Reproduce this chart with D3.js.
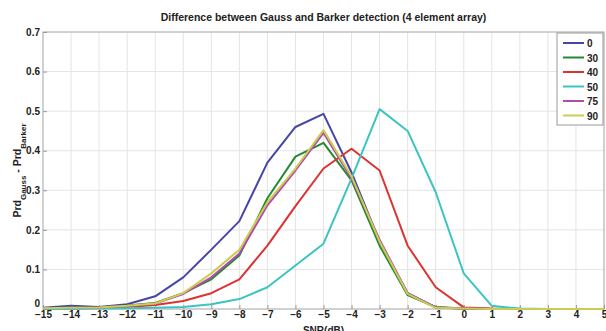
<!DOCTYPE html>
<html>
<head>
<meta charset="utf-8">
<script src="https://cdn.jsdelivr.net/npm/d3@7"></script>
<style>
  body { margin: 0; background: #fff; }
  svg { font-family: "Liberation Sans", Arial, sans-serif; }
</style>
</head>
<body>
<div id="chart"></div>
<script>
// Data
const snr = [-15, -14, -13, -12, -11, -10, -9, -8, -7, -6, -5, -4, -3, -2, -1, 0, 1, 2, 3, 4, 5];
const angles = ["0", "30", "40", "50", "75", "90"];
const colors = ["#4646a6", "#238a2e", "#dc3232", "#3cc4c4", "#b04ab0", "#cccc50"];

const s0  = [0.003, 0.008, 0.005, 0.012, 0.032, 0.08, 0.15, 0.222, 0.37, 0.46, 0.493, 0.345, 0.17, 0.04, 0.004, 0.001, 0, 0, 0, 0, 0];
const s30 = [0.002, 0.003, 0.004, 0.009, 0.015, 0.04, 0.075, 0.135, 0.28, 0.385, 0.42, 0.325, 0.16, 0.035, 0.005, 0.001, 0, 0, 0, 0, 0];
const s40 = [0.001, 0.002, 0.003, 0.005, 0.01, 0.02, 0.04, 0.075, 0.16, 0.26, 0.355, 0.405, 0.35, 0.16, 0.055, 0.004, 0.001, 0, 0, 0, 0];
const s50 = [0, 0, 0.001, 0.002, 0.003, 0.005, 0.012, 0.025, 0.055, 0.11, 0.165, 0.33, 0.505, 0.45, 0.295, 0.09, 0.008, 0.001, 0, 0, 0];
const s75 = [0.002, 0.003, 0.004, 0.008, 0.014, 0.038, 0.08, 0.14, 0.262, 0.35, 0.445, 0.33, 0.175, 0.04, 0.004, 0.001, 0, 0, 0, 0, 0];
const s90 = [0.002, 0.003, 0.004, 0.008, 0.014, 0.04, 0.09, 0.15, 0.27, 0.355, 0.452, 0.335, 0.17, 0.038, 0.003, 0.001, 0, 0, 0, 0, 0];
const series = [s0, s30, s40, s50, s75, s90];

const yTicks = [0, 0.1, 0.2, 0.3, 0.4, 0.5, 0.6, 0.7];

const W = 606, H = 331;
const margin = { top: 32, right: 2, bottom: 22, left: 43 };
const width = W - margin.left - margin.right;
const height = H - margin.top - margin.bottom;

const svg = d3.select("#chart").append("svg")
    .attr("width", W)
    .attr("height", H);

const g = svg.append("g")
    .attr("transform", `translate(${margin.left},${margin.top})`);

const x = d3.scaleLinear().domain([-15, 5]).range([0, width]);
const y = d3.scaleLinear().domain([0, 0.7]).range([height, 0]);

// Grid
g.append("g")
    .selectAll("line")
    .data(snr)
    .join("line")
    .attr("x1", d => x(d)).attr("x2", d => x(d))
    .attr("y1", 0).attr("y2", height)
    .attr("stroke", "#e4e4e4").attr("stroke-width", 1);

g.append("g")
    .selectAll("line")
    .data(yTicks)
    .join("line")
    .attr("x1", 0).attr("x2", width)
    .attr("y1", d => y(d)).attr("y2", d => y(d))
    .attr("stroke", "#e4e4e4").attr("stroke-width", 1);

// Frame
g.append("rect")
    .attr("width", width).attr("height", height)
    .attr("fill", "none").attr("stroke", "#b0b0b0").attr("stroke-width", 1);

// Axes
const fmtY = d => d === 0 ? "0" : d3.format(".1f")(d);

const xAxis = g.append("g")
    .attr("transform", `translate(0,${height})`)
    .call(d3.axisBottom(x).tickValues(snr).tickSize(-4).tickPadding(2).tickFormat(d3.format("d")));
xAxis.select(".domain").remove();
xAxis.selectAll("line").attr("stroke", "#999");
xAxis.selectAll("text").attr("fill", "#222").style("font-size", "10px").style("font-weight", "bold");

const yAxis = g.append("g")
    .call(d3.axisLeft(y).tickValues(yTicks).tickSize(-4).tickPadding(3).tickFormat(fmtY));
yAxis.select(".domain").remove();
yAxis.selectAll("line").attr("stroke", "#999");
yAxis.selectAll("text").attr("fill", "#222").style("font-size", "10px").style("font-weight", "bold");
// lift the "0" so it clears "-15"
yAxis.selectAll("text").filter(d => d === 0).attr("dy", "-0.3em");

// Lines
const line = d3.line()
    .x((d, i) => x(snr[i]))
    .y(d => y(d));

series.forEach((s, k) => {
    g.append("path")
        .datum(s)
        .attr("fill", "none")
        .attr("stroke", colors[k])
        .attr("stroke-width", 2)
        .attr("stroke-linejoin", "round")
        .attr("d", line);
});

// Title
svg.append("text")
    .attr("x", margin.left + width / 2)
    .attr("y", 21)
    .attr("text-anchor", "middle")
    .style("font-size", "10.5px")
    .style("font-weight", "bold")
    .attr("fill", "#222")
    .text("Difference between Gauss and Barker detection (4 element array)");

// X label (partly clipped at the bottom edge, as in the reference)
svg.append("text")
    .attr("x", margin.left + width / 2)
    .attr("y", 334)
    .attr("text-anchor", "middle")
    .style("font-size", "10px")
    .style("font-weight", "bold")
    .attr("fill", "#222")
    .text("SNR(dB)");

// Y label
const yl = svg.append("text")
    .attr("transform", `translate(21,${margin.top + height / 2}) rotate(-90)`)
    .attr("text-anchor", "middle")
    .style("font-size", "10.5px")
    .style("font-weight", "bold")
    .attr("fill", "#222");
yl.append("tspan").text("Prd");
yl.append("tspan").attr("baseline-shift", "sub").style("font-size", "8px").text("Gauss");
yl.append("tspan").text(" - Prd");
yl.append("tspan").attr("baseline-shift", "sub").style("font-size", "8px").text("Barker");

// Legend
const legend = svg.append("g").attr("transform", "translate(557,33)");
legend.append("rect")
    .attr("width", 46).attr("height", 92)
    .attr("fill", "#fff").attr("stroke", "#999").attr("stroke-width", 1);
angles.forEach((a, i) => {
    const row = legend.append("g").attr("transform", `translate(0,${10 + i * 14.5})`);
    row.append("line")
        .attr("x1", 6).attr("x2", 27)
        .attr("stroke", colors[i]).attr("stroke-width", 2);
    row.append("text")
        .attr("x", 30).attr("y", 4)
        .style("font-size", "10px").style("font-weight", "bold")
        .attr("fill", "#222")
        .text(a);
});
</script>
</body>
</html>
